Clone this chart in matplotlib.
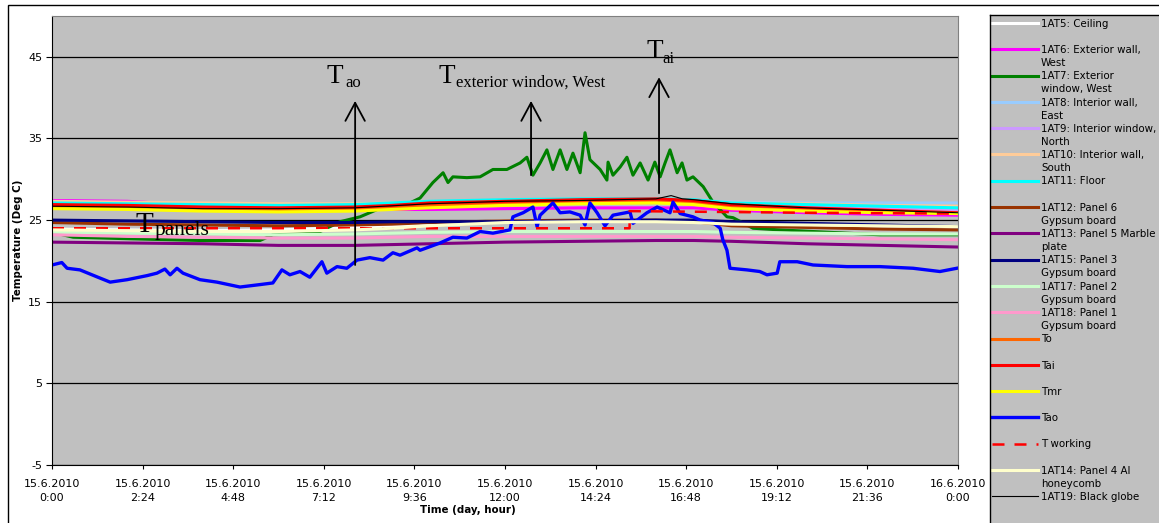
import matplotlib.pyplot as plt
from matplotlib.lines import Line2D
from matplotlib.patches import Rectangle

plt.rcParams['font.family'] = ['DejaVu Sans']
plt.rcParams['axes.unicode_minus'] = False

SERIF = 'Liberation Serif'

# time axis in hours from 15.6.2010 0:00
hours = [0, 2, 4, 6, 8, 9, 10, 12, 14, 16, 17, 18, 20, 22, 24]

t_ceiling = [23.9, 23.8, 23.7, 23.8, 24.1, 24.3, 24.6, 24.9, 24.9, 24.9, 24.8, 24.6, 24.4, 24.3, 24.2]
t_ext_wall = [27.4, 27.3, 26.8, 26.5, 26.3, 26.3, 26.3, 26.4, 26.5, 26.5, 26.5, 26.2, 25.9, 25.7, 25.6]
t_int_wall_e = [27.2, 27.1, 27.0, 26.9, 26.9, 27.0, 27.1, 27.2, 27.3, 27.4, 27.3, 27.2, 27.1, 27.1, 27.1]
t_int_window_n = [26.9, 26.8, 26.7, 26.6, 26.7, 26.8, 27.0, 27.2, 27.3, 27.3, 27.1, 26.8, 26.6, 26.4, 26.3]
t_int_wall_s = [27.3, 27.2, 27.1, 27.0, 27.0, 27.1, 27.2, 27.4, 27.5, 27.5, 27.4, 27.1, 27.0, 26.8, 26.7]
t_floor = [27.1, 27.0, 26.9, 26.8, 26.9, 27.1, 27.3, 27.5, 27.6, 27.6, 27.5, 27.1, 26.9, 26.7, 26.5]
t_panel6 = [24.7, 24.5, 24.4, 24.3, 24.4, 24.5, 24.7, 24.9, 25.0, 25.0, 24.8, 24.3, 24.1, 23.9, 23.8]
t_panel5 = [22.3, 22.2, 22.1, 21.9, 21.9, 22.0, 22.1, 22.3, 22.4, 22.5, 22.5, 22.4, 22.1, 21.9, 21.7]
t_panel3 = [25.0, 24.9, 24.8, 24.7, 24.7, 24.8, 24.8, 24.8, 24.9, 25.0, 25.0, 24.8, 24.6, 24.4, 24.2]
t_panel2 = [23.5, 23.4, 23.3, 23.2, 23.3, 23.4, 23.5, 23.6, 23.6, 23.6, 23.6, 23.5, 23.4, 23.3, 23.3]
t_panel1 = [23.2, 23.0, 22.9, 22.8, 22.8, 22.9, 23.0, 23.0, 23.0, 23.0, 23.0, 22.9, 22.8, 22.7, 22.6]
t_o = [26.6, 26.5, 26.3, 26.2, 26.3, 26.5, 26.8, 27.0, 27.2, 27.3, 27.1, 26.6, 26.3, 26.0, 25.8]
t_ai = [26.9, 26.8, 26.6, 26.5, 26.6, 26.8, 27.1, 27.3, 27.5, 27.6, 27.4, 26.9, 26.5, 26.2, 25.9]
t_mr = [26.4, 26.3, 26.1, 26.0, 26.1, 26.3, 26.5, 26.8, 27.0, 27.1, 26.9, 26.4, 26.1, 25.9, 25.8]
t_panel4 = [23.8, 23.7, 23.6, 23.6, 23.8, 24.0, 24.3, 24.7, 24.8, 24.8, 24.7, 24.5, 24.4, 24.3, 24.2]

# exterior window, west (1AT7)
window_hours = [0.00, 0.56, 2.15, 3.92, 5.51, 5.85, 7.02, 7.63, 8.16, 8.77, 9.48, 9.75, 10.09,
                10.36, 10.49, 10.62, 10.99, 11.34, 11.68, 12.05, 12.40, 12.58, 12.74, 12.93,
                13.11, 13.27, 13.46, 13.64, 13.80, 13.99, 14.12, 14.25, 14.52, 14.70, 14.73,
                14.86, 15.05, 15.23, 15.39, 15.58, 15.79, 15.97, 16.11, 16.24, 16.37, 16.56,
                16.69, 16.82, 16.98, 17.25, 17.51, 17.88, 18.04, 18.57, 19.28, 20.16, 21.93, 23.97]
t_ext_window = [23.5, 22.9, 22.7, 22.5, 22.5, 23.2, 23.4, 24.8, 25.4, 26.6, 27.1, 27.7, 29.6,
                30.8, 29.6, 30.3, 30.2, 30.3, 31.2, 31.2, 32.0, 32.7, 30.5, 32.0,
                33.6, 31.2, 33.6, 31.2, 33.2, 30.8, 35.7, 32.4, 31.2, 29.9, 32.1,
                30.5, 31.5, 32.7, 30.5, 32.0, 29.9, 32.1, 30.3, 32.0, 33.6, 30.8,
                32.0, 29.9, 30.3, 29.1, 27.2, 25.4, 25.3, 24.0, 23.8, 23.6, 23.2, 23.2]

# outdoor air (Tao)
tao_hours = [0.00, 0.26, 0.40, 0.74, 1.27, 1.54, 1.99, 2.52, 2.78, 2.99, 3.13, 3.31, 3.47, 3.92,
             4.37, 4.98, 5.51, 5.85, 6.09, 6.30, 6.57, 6.83, 7.15, 7.28, 7.55, 7.81, 8.08,
             8.42, 8.77, 9.03, 9.22, 9.67, 9.75, 10.28, 10.62, 10.99, 11.34, 11.68, 12.13,
             12.21, 12.48, 12.74, 12.85, 12.93, 13.27, 13.46, 13.72, 13.99, 14.12, 14.25,
             14.44, 14.65, 14.86, 15.31, 15.39, 15.76, 16.03, 16.37, 16.45, 16.64, 16.98,
             17.17, 17.51, 17.70, 17.77, 17.88, 17.96, 18.41, 18.75, 18.94, 19.21, 19.28,
             19.74, 20.16, 21.06, 21.93, 22.81, 23.52, 23.97]
t_ao = [19.5, 19.8, 19.1, 18.9, 17.9, 17.4, 17.7, 18.2, 18.5, 19.0, 18.3, 19.1, 18.5, 17.7,
        17.4, 16.8, 17.1, 17.3, 18.9, 18.3, 18.7, 18.0, 19.9, 18.5, 19.3, 19.1, 20.1,
        20.4, 20.1, 21.0, 20.7, 21.6, 21.3, 22.2, 22.9, 22.8, 23.6, 23.4, 23.8,
        25.4, 25.9, 26.6, 24.2, 25.6, 27.1, 25.9, 26.0, 25.6, 24.4, 27.1,
        25.9, 24.3, 25.6, 26.0, 24.6, 25.9, 26.6, 25.9, 27.2, 25.8, 25.4,
        25.0, 24.7, 24.0, 22.6, 21.3, 19.1, 18.9, 18.7, 18.3, 18.5, 19.9,
        19.9, 19.5, 19.3, 19.3, 19.1, 18.7, 19.1]

# working temperature
working_hours = [0, 15.3, 15.3, 20, 24]
t_working = [24.0, 24.0, 26.1, 25.9, 25.8]

# black globe
globe_hours = [0, 2, 4, 6, 8, 10, 12, 14, 16, 16.4, 16.7, 17, 18, 20, 22, 24]
t_globe = [26.7, 26.6, 26.4, 26.4, 26.5, 27.0, 27.3, 27.4, 27.6, 28.0, 27.6, 27.5, 27.0, 26.5, 26.2, 25.9]

labels = ['1AT5: Ceiling', '1AT6: Exterior wall,\nWest', '1AT7: Exterior\nwindow, West',
          '1AT8: Interior wall,\nEast', '1AT9: Interior window,\nNorth',
          '1AT10: Interior wall,\nSouth', '1AT11: Floor', '1AT12: Panel 6\nGypsum board',
          '1AT13: Panel 5 Marble\nplate', '1AT15: Panel 3\nGypsum board',
          '1AT17: Panel 2\nGypsum board', '1AT18: Panel 1\nGypsum board', 'To', 'Tai', 'Tmr',
          'Tao', 'T working', '1AT14: Panel 4 Al\nhoneycomb', '1AT19: Black globe']
xtick_hours = [0, 2.4, 4.8, 7.2, 9.6, 12, 14.4, 16.8, 19.2, 21.6, 24]
xtick_labels = ['15.6.2010\n0:00', '15.6.2010\n2:24', '15.6.2010\n4:48', '15.6.2010\n7:12',
                '15.6.2010\n9:36', '15.6.2010\n12:00', '15.6.2010\n14:24', '15.6.2010\n16:48',
                '15.6.2010\n19:12', '15.6.2010\n21:36', '16.6.2010\n0:00']
yticks = [-5, 5, 15, 25, 35, 45]

series = [
    (hours, t_ceiling, dict(color='white', lw=2.2)),
    (hours, t_ext_wall, dict(color='#FF00FF', lw=2.2)),
    (window_hours, t_ext_window, dict(color='#008000', lw=2.2)),
    (hours, t_int_wall_e, dict(color='#99CCFF', lw=2.2)),
    (hours, t_int_window_n, dict(color='#CC99FF', lw=2.2)),
    (hours, t_int_wall_s, dict(color='#FFCC99', lw=2.2)),
    (hours, t_floor, dict(color='#00FFFF', lw=2.2)),
    (hours, t_panel6, dict(color='#993300', lw=2.2)),
    (hours, t_panel5, dict(color='#800080', lw=2.2)),
    (hours, t_panel3, dict(color='#000080', lw=2.2)),
    (hours, t_panel2, dict(color='#CCFFCC', lw=2.2)),
    (hours, t_panel1, dict(color='#FF99CC', lw=2.2)),
    (hours, t_o, dict(color='#FF6600', lw=2.2)),
    (hours, t_ai, dict(color='#FF0000', lw=2.2)),
    (hours, t_mr, dict(color='#FFFF00', lw=2.2)),
    (tao_hours, t_ao, dict(color='#0000FF', lw=2.4)),
    (working_hours, t_working, dict(color='#FF0000', lw=1.8, dashes=(4.8, 4))),
    (hours, t_panel4, dict(color='#FFFFCC', lw=2.2)),
    (globe_hours, t_globe, dict(color='black', lw=0.8)),
]

W, H = 1159, 523


def fig_box(x0, y0, x1, y1):
    # pixel box (top-left origin) -> figure fraction
    return [x0 / W, 1 - y1 / H, (x1 - x0) / W, (y1 - y0) / H]


fig = plt.figure(figsize=(W / 100, H / 100), dpi=100)
fig.add_artist(Rectangle((7.5 / W, -0.1), 1.0, 1.1 - 5 / H, transform=fig.transFigure,
                         fill=False, ec='black', lw=1))

ax = fig.add_axes(fig_box(52, 16, 958, 465))
ax.set_facecolor('#C0C0C0')
ax.set_xlim(0, 24)
ax.set_ylim(-5, 50)
ax.yaxis.grid(True, color='black', lw=0.9)
ax.set_axisbelow(True)

lines = []
for x, y, style in series:
    ln, = ax.plot(x, y, solid_joinstyle='round', **style)
    lines.append(ln)

ax.set_xticks(xtick_hours)
ax.set_xticklabels(xtick_labels, fontsize=8, linespacing=1.55)
ax.set_yticks(yticks)
ax.tick_params(axis='y', labelsize=8, length=4, width=0.8, pad=3)
ax.tick_params(axis='x', length=3, width=0.8, pad=7)
for side in ['top', 'right']:
    ax.spines[side].set_color('#808080')
ax.set_xlabel('Time (day, hour)', fontsize=7.4, fontweight='bold', va='center')
ax.xaxis.set_label_coords(0.459, -0.1)
ax.set_ylabel('Temperature (Deg C)', fontsize=7.4, fontweight='bold', va='center')
ax.yaxis.set_label_coords(-0.0375, 0.5)

# annotations: large T with smaller subscript text
notes = [
    (7.28, 41.8, 7.76, 41.3, 'ao', 19.5, 12),
    (10.25, 41.8, 10.70, 41.3, 'exterior window, West', 19.5, 12),
    (15.76, 44.9, 16.16, 44.3, 'ai', 19.5, 12),
    (2.2, 23.55, 2.73, 23.2, 'panels', 21, 15.5),
]
for tx, ty, sx, sy, sub, big, small in notes:
    ax.text(tx, ty, 'T', fontsize=big, family=SERIF, ha='left', va='baseline')
    ax.text(sx, sy, sub, fontsize=small, family=SERIF, ha='left', va='baseline')

arrow = dict(arrowstyle='->, head_length=0.65, head_width=0.35', color='black', lw=1.3,
             shrinkA=0, shrinkB=0, mutation_scale=20)
ax.annotate('', xy=(8.03, 39.6), xytext=(8.03, 19.5), arrowprops=arrow)
ax.annotate('', xy=(12.69, 39.6), xytext=(12.69, 30.5), arrowprops=arrow)
ax.annotate('', xy=(16.08, 42.5), xytext=(16.08, 28.3), arrowprops=arrow)

# legend box drawn in pixel coordinates
lax = fig.add_axes(fig_box(990, 15, 1175, 535))
lax.set_xlim(990, 1175)
lax.set_ylim(535, 15)
lax.set_facecolor('#C0C0C0')
lax.set_xticks([])
lax.set_yticks([])
for side in lax.spines.values():
    side.set_linewidth(1)
for i, (ln, lab) in enumerate(zip(lines, labels)):
    y = 23 + i * 26.3
    h = Line2D([992, 1038], [y, y])
    h.update_from(ln)
    h.set_transform(lax.transData)
    lax.add_line(h)
    lax.text(1041, y - 4.3, lab, fontsize=7.4, va='top', ha='left', linespacing=1.38)

fig.savefig('out.png', dpi=100)
